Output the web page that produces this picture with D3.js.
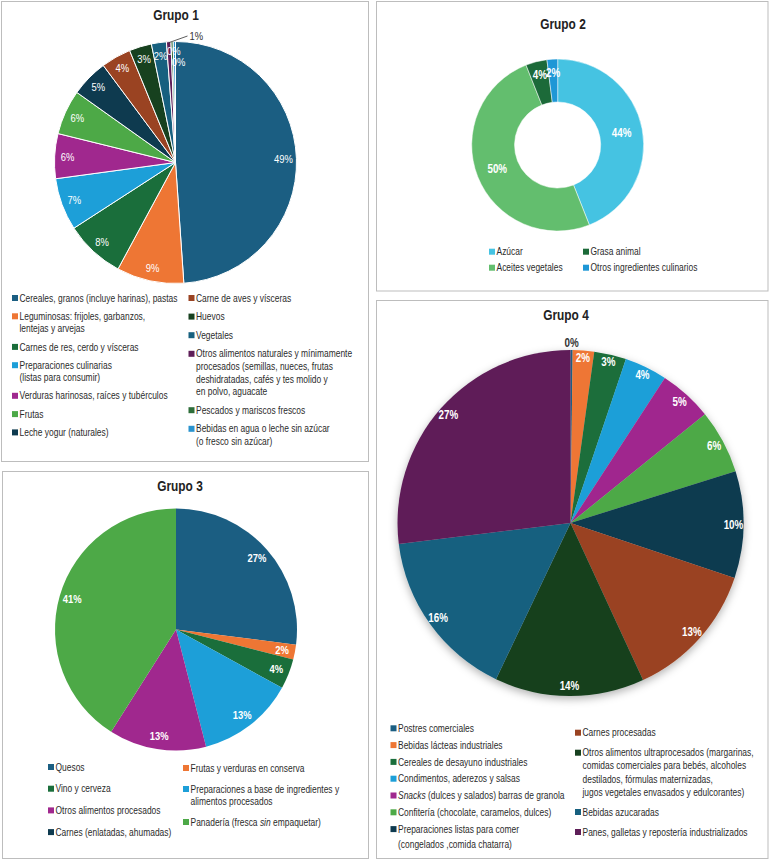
<!DOCTYPE html>
<html><head><meta charset="utf-8">
<script src="https://cdn.jsdelivr.net/npm/d3@7"></script>
<style>
body{margin:0;background:#fff}
svg{display:block}
text{font-family:"Liberation Sans",Arial,sans-serif}
</style>
</head><body>
<svg id="c" width="770" height="860"></svg>
<script>
// ---------- DATA ----------
const g1Categories = [
  "Cereales, granos (incluye harinas), pastas",
  "Leguminosas: frijoles, garbanzos,\nlentejas y arvejas",
  "Carnes de res, cerdo y vísceras",
  "Preparaciones culinarias\n(listas para consumir)",
  "Verduras harinosas, raíces y tubérculos",
  "Frutas",
  "Leche yogur (naturales)",
  "Carne de aves y vísceras",
  "Huevos",
  "Vegetales",
  "Otros alimentos naturales y mínimamente\nprocesados (semillas, nueces, frutas\ndeshidratadas, cafés y tes molido y\nen polvo, aguacate",
  "Pescados y mariscos frescos",
  "Bebidas  en agua o leche sin azúcar\n(o fresco sin azúcar)"
];
const g1Values = [49, 9, 8, 7, 6, 6, 5, 4, 3, 2, 0.6, 0.3, 0.3];

const g2Categories = ["Azúcar", "Aceites vegetales", "Grasa animal", "Otros ingredientes culinarios"];
const g2Values = [44, 50, 4, 2];

const g3Categories = [
  "Quesos",
  "Frutas y verduras en conserva",
  "Vino y cerveza",
  "Preparaciones a base de ingredientes y\nalimentos procesados",
  "Otros alimentos procesados",
  "Panadería (fresca *sin* empaquetar)",
  "Carnes (enlatadas, ahumadas)"
];
const g3Values = [27, 2, 4, 13, 13, 41, 0];

const g4Categories = [
  "Postres comerciales",
  "Bebidas lácteas industriales",
  "Cereales de desayuno industriales",
  "Condimentos, aderezos y salsas",
  "*Snacks* (dulces y salados) barras de granola",
  "Confitería (chocolate, caramelos, dulces)",
  "Preparaciones listas para comer\n(congelados ,comida chatarra)",
  "Carnes procesadas",
  "Otros alimentos ultraprocesados (margarinas,\ncomidas comerciales para bebés, alcoholes\ndestilados, fórmulas maternizadas,\njugos vegetales envasados y edulcorantes)",
  "Bebidas azucaradas",
  "Panes, galletas y repostería industrializados"
];
const g4Values = [0.2, 2, 3, 4, 5, 6, 10, 13, 14, 16, 27];

// ---------- STYLES ----------
const g1Colors = ["#1B5E82","#EE7634","#1A6E3B","#1D9FD8","#A0288E","#4DA947","#0E3A4F","#9A4322","#17411F","#17607F","#5E1E58","#2E6E3A","#2A93CE"];
const g2Colors = ["#45C3E2","#63BE6E","#1C6A39","#1E97D6"];
const g3Colors = ["#1B5E82","#EE7634","#1A6E3B","#1D9FD8","#A0288E","#4DA947","#0E3A4F"];
const g4Colors = ["#1B5E82","#EE7634","#1A6E3B","#1D9FD8","#A0288E","#4DA947","#0E3A4F","#9A4322","#17411F","#17607F","#5E1E58"];
const NARROW = 0.82;

const svg = d3.select("#c");
const defs = svg.append("defs");
const f = defs.append("filter").attr("id","sh").attr("x","-20%").attr("y","-20%").attr("width","140%").attr("height","140%");
f.append("feDropShadow").attr("dx",0).attr("dy",3).attr("stdDeviation",4).attr("flood-color","#000").attr("flood-opacity",0.3);

// narrow text helper
function ntext(parent, x, y){
  return parent.append("text").attr("transform",`translate(${x},${y}) scale(${NARROW},1)`);
}

// panels
const panels = [
  {x:1.5, y:1.5, w:367, h:460},
  {x:376.5, y:1.5, w:391.5, h:289.5},
  {x:2.5, y:471.5, w:366, h:387},
  {x:376.5, y:300.5, w:391.5, h:558}
];
svg.selectAll("rect.panel").data(panels).join("rect").attr("class","panel")
  .attr("x",d=>d.x).attr("y",d=>d.y).attr("width",d=>d.w).attr("height",d=>d.h)
  .attr("fill","#fff").attr("stroke","#BDBDBD").attr("stroke-width",1);

function title(x, y, t){
  ntext(svg, x, y).attr("text-anchor","middle")
    .attr("font-size",14.5).attr("font-weight","bold").attr("fill","#222").text(t);
}

function addRich(textSel, str){
  const parts = str.split("*");
  parts.forEach((p,i)=>{
    if(!p) return;
    const ts = textSel.append("tspan").text(p);
    if(i%2===1) ts.attr("font-style","italic");
  });
}

function legend(cats, colors, cols){
  cols.forEach(col=>{
    let y = col.y;
    col.idx.forEach(i=>{
      const lines = cats[i].split("\n");
      svg.append("rect").attr("x",col.x).attr("y",y-3).attr("width",6).attr("height",6).attr("fill",colors[i]);
      lines.forEach((ln,k)=>{
        const t = ntext(svg, col.x+7.5, y+3.6+k*col.lh)
          .attr("font-size",10.3).attr("fill","#2b2b2b");
        addRich(t, ln);
      });
      y += (lines.length-1)*col.lh + col.gap;
    });
  });
}

const pct = v => Math.round(v) + "%";
const pie = d3.pie().sort(null).value(d=>d);

function label(g, x, y, txt, opts){
  ntext(g, x, y).attr("text-anchor", opts.anchor || "middle")
    .attr("font-size", opts.size).attr("font-weight", opts.bold ? "bold" : "normal")
    .attr("fill", opts.fill).text(txt);
}

// ---------- GRUPO 1 ----------
(function(){
  const cx=175.5, cy=162.5, r=121;
  title(176, 19.5, "Grupo 1");
  const g = svg.append("g").attr("transform",`translate(${cx},${cy})`);
  const arcs = pie(g1Values);
  const arc = d3.arc().innerRadius(0).outerRadius(r);
  g.selectAll("path").data(arcs).join("path").attr("d",arc)
    .attr("fill",(d,i)=>g1Colors[i]).attr("stroke","#fff").attr("stroke-width",1);
  let small = 0;
  arcs.forEach((d,i)=>{
    const a = (d.startAngle+d.endAngle)/2;
    if(d.value >= 1.5){
      const lr = 108;
      label(g, Math.sin(a)*lr, -Math.cos(a)*lr+4, pct(d.value), {size:11.5, fill:"#fff"});
    } else {
      if(small===0){
        const p0=[Math.sin(a)*(r-1), -Math.cos(a)*(r-1)];
        const p1=[12,-126.5];
        g.append("path").attr("d",`M${p0[0]},${p0[1]}L${p1[0]},${p1[1]}`).attr("stroke","#333").attr("stroke-width",0.8).attr("fill","none");
        label(g, p1[0]+2, p1[1]+4, pct(d.value), {size:11.5, fill:"#333", anchor:"start"});
      } else {
        const lr = small===1 ? 112 : 101;
        const dx = small===1 ? 1.5 : 4;
        label(g, Math.sin(a)*lr+dx, -Math.cos(a)*lr+4, pct(d.value), {size:11.5, fill:"#fff"});
      }
      small++;
    }
  });
  legend(g1Categories, g1Colors, [
    {x:12, y:298, gap:18.3, lh:12.3, idx:[0,1,2,3,4,5,6]},
    {x:188.5, y:298, gap:18.6, lh:12.6, idx:[7,8,9,10,11,12]}
  ]);
})();

// ---------- GRUPO 2 ----------
(function(){
  const cx=557.7, cy=145, r=86, ri=43;
  title(563, 29, "Grupo 2");
  const g = svg.append("g").attr("transform",`translate(${cx},${cy})`);
  const arcs = pie(g2Values);
  const arc = d3.arc().innerRadius(ri).outerRadius(r);
  g.selectAll("path").data(arcs).join("path").attr("d",arc)
    .attr("fill",(d,i)=>g2Colors[i]).attr("stroke","#fff").attr("stroke-width",0.5);
  arcs.forEach(d=>{
    const a=(d.startAngle+d.endAngle)/2;
    const lr = d.value < 10 ? 72 : 65;
    label(g, Math.sin(a)*lr, -Math.cos(a)*lr+4, pct(d.value), {size:12, bold:true, fill:"#fff"});
  });
  legend(g2Categories, g2Colors, [
    {x:489, y:251.7, gap:16, lh:12, idx:[0,1]},
    {x:583, y:251.7, gap:16, lh:12, idx:[2,3]}
  ]);
})();

// ---------- GRUPO 3 ----------
(function(){
  const cx=176, cy=629.5, r=121;
  title(180, 490.5, "Grupo 3");
  const g = svg.append("g").attr("transform",`translate(${cx},${cy})`);
  const arcs = pie(g3Values);
  const arc = d3.arc().innerRadius(0).outerRadius(r);
  g.selectAll("path").data(arcs).join("path").attr("d",arc).attr("fill",(d,i)=>g3Colors[i]);
  arcs.forEach(d=>{
    if(d.value<=0) return;
    const a=(d.startAngle+d.endAngle)/2, lr=108;
    label(g, Math.sin(a)*lr, -Math.cos(a)*lr+4, pct(d.value), {size:11.5, bold:true, fill:"#fff"});
  });
  legend(g3Categories, g3Colors, [
    {x:48, y:767, gap:21.7, lh:12, idx:[0,2,4,6]},
    {x:183, y:768, gap:21, lh:12, idx:[1,3,5]}
  ]);
})();

// ---------- GRUPO 4 ----------
(function(){
  const cx=570.5, cy=523, r=173;
  title(566, 320, "Grupo 4");
  const g = svg.append("g").attr("transform",`translate(${cx},${cy})`);
  const arcs = pie(g4Values);
  const arc = d3.arc().innerRadius(0).outerRadius(r);
  g.append("g").attr("filter","url(#sh)").selectAll("path").data(arcs).join("path")
    .attr("d",arc).attr("fill",(d,i)=>g4Colors[i]);
  arcs.forEach(d=>{
    const a=(d.startAngle+d.endAngle)/2;
    const out = d.value < 1;
    const lr = out ? 180 : (d.value < 5 ? 165 : 163);
    label(g, Math.sin(a)*lr, -Math.cos(a)*lr+4, pct(d.value), {size:12, bold:true, fill: out ? "#333" : "#fff"});
  });
  legend(g4Categories, g4Colors, [
    {x:390.5, y:728.3, gap:16.8, lh:15, idx:[0,1,2,3,4,5,6]},
    {x:575, y:732.7, gap:20, lh:13.1, idx:[7,8,9,10]}
  ]);
})();
</script>
</body></html>
